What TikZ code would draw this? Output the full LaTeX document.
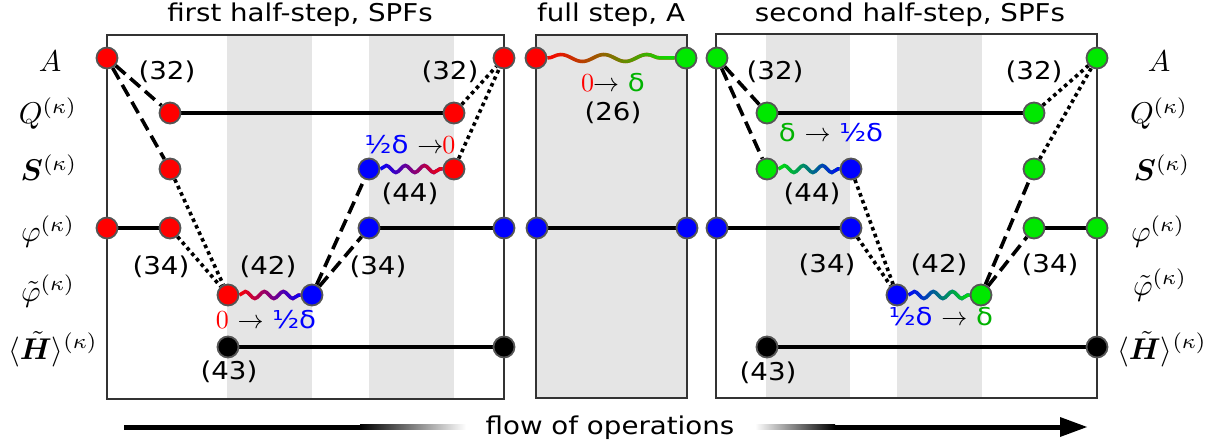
\documentclass[tikz,border=0pt]{standalone}
\usepackage{amsmath,bm}
\usepackage{fontspec}
\usetikzlibrary{decorations.pathmorphing,fadings}
\newfontfamily\lab[FakeStretch=1.13]{DejaVu Sans}
\newcommand\labfont{\lab\fontsize{24.5}{29}\selectfont}
\newcommand\bigmath[1]{\scalebox{2.6}{\fontsize{10}{12}\selectfont$#1$}}
\newcommand\rowmath[1]{\scalebox{3}{\fontsize{10}{12}\selectfont$#1$}}
\definecolor{ngreen}{RGB}{0,232,0}
\definecolor{tgreen}{RGB}{0,178,0}
\definecolor{shadegray}{RGB}{229,229,229}
\definecolor{rim}{RGB}{85,85,85}
\definecolor{framecol}{RGB}{51,51,51}
\tikzfading[name=fadeR, left color=transparent!100, right color=transparent!0]
\pgfdeclarelayer{back}
\pgfdeclarelayer{mid}
\pgfsetlayers{back,mid,main}
\tikzset{
  dotnode/.style={circle, draw=rim, line width=1.8pt, minimum size=21pt, inner sep=0pt},
  rdot/.style={dotnode, fill=red},
  bdot/.style={dotnode, fill=blue},
  gdot/.style={dotnode, fill=ngreen},
  kdot/.style={dotnode, fill=black},
  solidline/.style={line width=3.5pt},
  dashline/.style={line width=3.6pt, dash pattern=on 13pt off 6.5pt},
  dotline/.style={line width=3.6pt, dash pattern=on 3.6pt off 3.6pt},
  wav/.style={line width=3.5pt, decorate, decoration={snake, amplitude=3.5pt, segment length=#1}},
  wav/.default=19pt,
  eq/.style={font=\labfont, inner sep=0pt},
  title/.style={font=\labfont, inner sep=0pt, anchor=base},
  rowlab/.style={inner sep=0pt, anchor=base},
  frameline/.style={draw=framecol, line width=1.4pt}
}
\begin{document}
\begin{tikzpicture}[x=1pt,y=-1pt]
\useasboundingbox (0,0) rectangle (1225,446);
\begin{pgfonlayer}{back}
  \fill[shadegray] (227,35) rectangle (312,399);
  \fill[shadegray] (369,35) rectangle (454,399);
  \draw[frameline] (107,35) rectangle (504,399);
  \filldraw[frameline, fill=shadegray] (536,35) rectangle (687,398);
  \fill[shadegray] (766,34) rectangle (850,398);
  \fill[shadegray] (897,34) rectangle (982,398);
  \draw[frameline] (716,34) rectangle (1097,398);
\end{pgfonlayer}

% titles
\node[title] (t1) at (300,22) {first half-step, SPFs};
\node[title] (t2) at (611,22) {full step, A};
\node[title] (t3) at (910,22) {second half-step, SPFs};

% row labels left
\node[rowlab] (la) at (50,72) {\rowmath{A}};
\node[rowlab] (lq) at (48,124) {\rowmath{Q^{(\kappa)}}};
\node[rowlab] (ls) at (49,181) {\rowmath{\bm{S}^{(\kappa)}}};
\node[rowlab] (lp) at (48,242) {\rowmath{\varphi^{(\kappa)}}};
\node[rowlab] (lt) at (48,301) {\rowmath{\tilde{\varphi}^{(\kappa)}}};
\node[rowlab] (lh) at (53,359) {\rowmath{\langle\bm{\tilde{H}}\rangle^{(\kappa)}}};
% row labels right
\node[rowlab] (ra) at (1159,72) {\rowmath{A}};
\node[rowlab] (rq) at (1159,124) {\rowmath{Q^{(\kappa)}}};
\node[rowlab] (rs) at (1162,181) {\rowmath{\bm{S}^{(\kappa)}}};
\node[rowlab] (rp) at (1158,242) {\rowmath{\varphi^{(\kappa)}}};
\node[rowlab] (rt) at (1160,295) {\rowmath{\tilde{\varphi}^{(\kappa)}}};
\node[rowlab] (rh) at (1162,359) {\rowmath{\langle\bm{\tilde{H}}\rangle^{(\kappa)}}};

% left panel nodes
\node[rdot] (LA1) at (107,58) {};
\node[rdot] (LQ1) at (170,113) {};
\node[rdot] (LS1) at (170,169) {};
\node[rdot] (LP0) at (107,228) {};
\node[rdot] (LP1) at (170,228) {};
\node[rdot] (LT1) at (228,295) {};
\node[bdot] (LT2) at (312,295) {};
\node[bdot] (LS2) at (369,169) {};
\node[bdot] (LP2) at (369,228) {};
\node[rdot] (LS3) at (454,169) {};
\node[rdot] (LQ3) at (454,113) {};
\node[rdot] (LA3) at (504,58) {};
\node[bdot] (LP3) at (504,228) {};
\node[kdot] (LH1) at (228,347) {};
\node[kdot] (LH3) at (504,347) {};
% middle nodes
\node[rdot] (MA1) at (536,58) {};
\node[gdot] (MA2) at (686,58) {};
\node[bdot] (MP1) at (537,228) {};
\node[bdot] (MP2) at (687,228) {};
% right nodes
\node[gdot] (RA1) at (717,58) {};
\node[gdot] (RQ1) at (767,113) {};
\node[gdot] (RS1) at (767,169) {};
\node[bdot] (RS2) at (851,169) {};
\node[bdot] (RP0) at (717,228) {};
\node[bdot] (RP1) at (851,228) {};
\node[bdot] (RT1) at (897,295) {};
\node[gdot] (RT2) at (981,295) {};
\node[gdot] (RS3) at (1034,169) {};
\node[gdot] (RP3) at (1034,228) {};
\node[gdot] (RP4) at (1097,228) {};
\node[gdot] (RQ3) at (1034,113) {};
\node[gdot] (RA3) at (1097,58) {};
\node[kdot] (RH1) at (767,347) {};
\node[kdot] (RH3) at (1097,347) {};

\begin{pgfonlayer}{mid}
  % left
  \draw[dashline] (LA1) -- (LQ1);
  \draw[dashline] (LA1) -- (LS1);
  \draw[solidline] (LQ1) -- (LQ3);
  \draw[solidline] (LP0) -- (LP1);
  \draw[dotline] (LS1) -- (LT1);
  \draw[dotline] (LP1) -- (LT1);
  \draw[dashline] (LT2) -- (LS2);
  \draw[dashline] (LT2) -- (LP2);
  \draw[solidline] (LP2) -- (LP3);
  \draw[dotline] (LQ3) -- (LA3);
  \draw[dotline] (LS3) -- (LA3);
  \draw[solidline] (LH1) -- (LH3);
  \draw[wav, red] (LT1) -- (LT2);
  \draw[wav, blue, path fading=fadeR] (LT1) -- (LT2);
  \draw[wav, blue] (LS2) -- (LS3);
  \draw[wav, red, path fading=fadeR] (LS2) -- (LS3);
  % middle
  \draw[wav=43pt, red] (MA1) -- (MA2);
  \draw[wav=43pt, ngreen, path fading=fadeR] (MA1) -- (MA2);
  \draw[solidline] (MP1) -- (MP2);
  % right
  \draw[dashline] (RA1) -- (RQ1);
  \draw[dashline] (RA1) -- (RS1);
  \draw[solidline] (RQ1) -- (RQ3);
  \draw[solidline] (RP0) -- (RP1);
  \draw[dotline] (RS2) -- (RT1);
  \draw[dotline] (RP1) -- (RT1);
  \draw[dashline] (RT2) -- (RS3);
  \draw[dashline] (RT2) -- (RP3);
  \draw[solidline] (RP3) -- (RP4);
  \draw[dotline] (RQ3) -- (RA3);
  \draw[dotline] (RS3) -- (RA3);
  \draw[solidline] (RH1) -- (RH3);
  \draw[wav, ngreen] (RS1) -- (RS2);
  \draw[wav, blue, path fading=fadeR] (RS1) -- (RS2);
  \draw[wav, blue] (RT1) -- (RT2);
  \draw[wav, ngreen, path fading=fadeR] (RT1) -- (RT2);
\end{pgfonlayer}

% equation labels left
\node[eq] (e1) at (167,72) {(32)};
\node[eq] (e2) at (450,72) {(32)};
\node[eq] (e3) at (161,267) {(34)};
\node[eq] (e4) at (268,267) {(42)};
\node[eq] (e5) at (378,267) {(34)};
\node[eq] (e6) at (229,372) {(43)};
\node[eq] (e7) at (410,194) {(44)};
\node[eq] (d1) at (266,320) {\textcolor{red}{\bigmath{0}} \bigmath{\rightarrow} \textcolor{blue}{½δ}};
\node[eq] (d2) at (410,145) {\textcolor{blue}{½δ} \bigmath{\rightarrow}\kern-1pt\textcolor{red}{\bigmath{0}}};
% middle
\node[eq] (d3) at (613,83) {\textcolor{red}{\bigmath{0}}\kern-1pt\bigmath{\rightarrow} \textcolor{tgreen}{δ}};
\node[eq] (e8) at (613,113) {(26)};
% right
\node[eq] (e9) at (775,72) {(32)};
\node[eq] (e10) at (1034,72) {(32)};
\node[eq] (d4) at (831,133) {\textcolor{tgreen}{δ} \bigmath{\rightarrow} \textcolor{blue}{½δ}};
\node[eq] (e11) at (812,194) {(44)};
\node[eq] (e12) at (827,265) {(34)};
\node[eq] (e13) at (939,265) {(42)};
\node[eq] (e14) at (1050,265) {(34)};
\node[eq] (d5) at (941,317) {\textcolor{blue}{½δ} \bigmath{\rightarrow} \textcolor{tgreen}{δ}};
\node[eq] (e15) at (768,373) {(43)};

% flow arrow
\coordinate (fa0) at (124,427);
\coordinate (fa1) at (360,427);
\coordinate (fa2) at (466,427);
\coordinate (fb0) at (755,427);
\coordinate (fb1) at (835,427);
\coordinate (fb2) at (1060,427);
\coordinate (fb3) at (1087,427);
\fill[black] ([yshift=-2.5pt]fa0) rectangle ([yshift=2.5pt]fa1);
\shade[left color=black, right color=white] ([yshift=-2.5pt]fa1) rectangle ([yshift=2.5pt]fa2);
\shade[left color=white, right color=black] ([yshift=-2.5pt]fb0) rectangle ([yshift=2.5pt]fb1);
\fill[black] ([yshift=-2.5pt]fb1) rectangle ([yshift=2.5pt]fb2);
\fill[black] ([yshift=-10pt]fb2) -- (fb3) -- ([yshift=10pt]fb2) -- cycle;
\node[title] (flow) at (610,434) {flow of operations};
\end{tikzpicture}
\end{document}
